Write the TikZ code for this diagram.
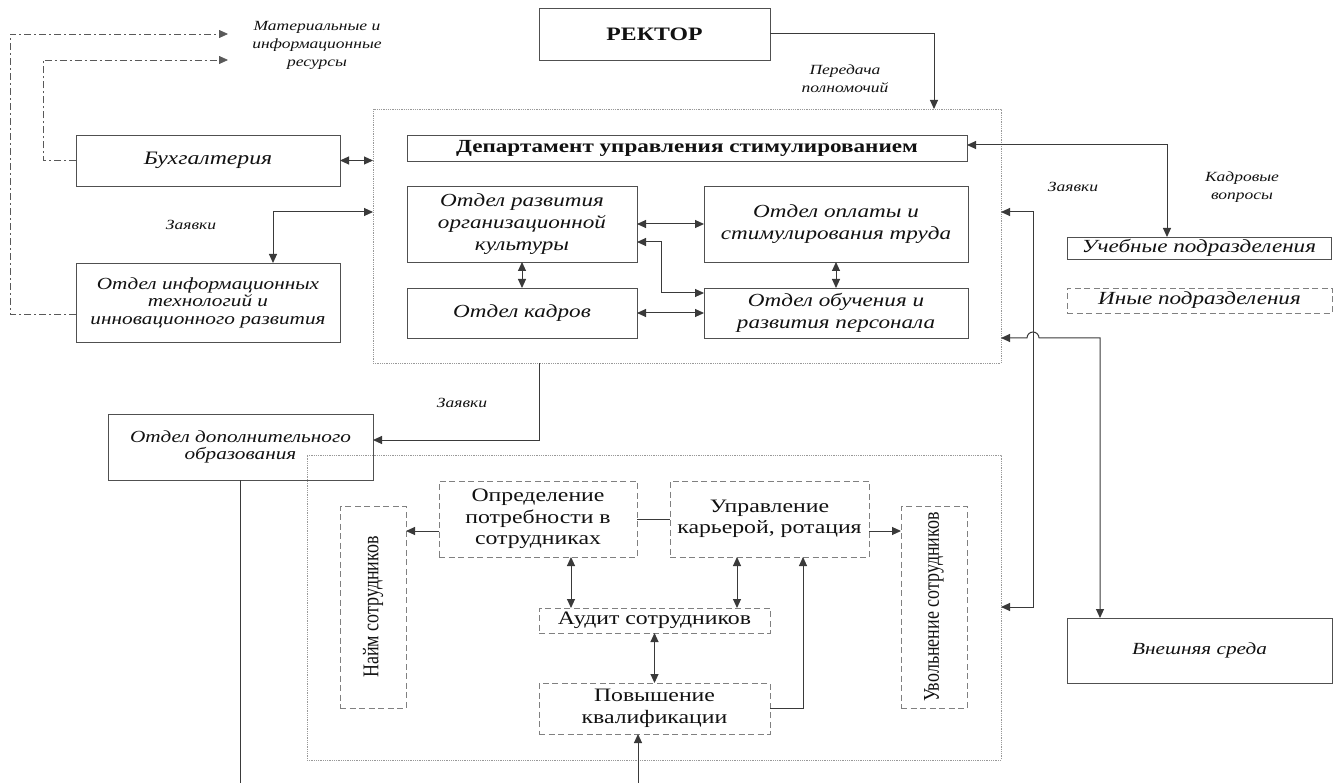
\documentclass[tikz,border=0pt]{standalone}
\usepackage{fontspec}
\usepackage{graphicx}
\setmainfont{Liberation Serif}[FakeStretch=1.25]
\newfontfamily\rotfont{Liberation Serif}[FakeStretch=0.8]
\usetikzlibrary{arrows.meta,calc}
\definecolor{ln}{HTML}{3A3A3A}
\definecolor{bd}{HTML}{505050}
\definecolor{txt}{HTML}{111111}
\begin{document}
\begin{tikzpicture}[x=1pt,y=-1pt,
  >={Triangle[length=9pt,width=8pt]},
  box/.style={draw=bd, line width=0.9pt, inner sep=0pt, outer sep=0pt, align=center, text=txt},
  dbox/.style={box, draw=gray, dash pattern=on 6pt off 3.5pt},
  cont/.style={draw=gray!80, line width=0.8pt, dash pattern=on 1pt off 0.8pt, inner sep=0pt, outer sep=0pt},
  conn/.style={draw=ln, line width=1pt},
  dd/.style={draw=gray!70!black, line width=0.8pt, dash pattern=on 7pt off 3pt on 2pt off 3pt},
  lab/.style={font=\fontsize{14}{18}\selectfont\itshape, align=center, text=txt, inner sep=0pt},
  fi/.style={font=\fontsize{17}{17.5}\selectfont\itshape},
  fib/.style={font=\fontsize{19}{20}\selectfont\itshape},
  fin/.style={font=\fontsize{18.5}{22}\selectfont\itshape},
  fu/.style={font=\fontsize{19}{21.5}\selectfont},
  fr/.style={font=\rotfont\fontsize{22.5}{24}\selectfont},
]
\useasboundingbox (0,0) rectangle (1338,783);

% nodes
\node[box, minimum width=231, minimum height=52, font=\fontsize{19}{20}\selectfont\bfseries] (rector) at (654.5,34) {РЕКТОР};
\node[box, fib, minimum width=264, minimum height=51] (buh) at (208,160.5) {Бухгалтерия};
\node[box, fi, minimum width=264, minimum height=79] (it) at (208,302.5) {Отдел информационных\\технологий и\\инновационного развития};
\node[box, minimum width=560, minimum height=26, font=\fontsize{18.5}{19}\selectfont\bfseries] (dept) at (687,148) {Департамент управления стимулированием};
\node[box, fin, minimum width=230, minimum height=76] (razv) at (522,224) {Отдел развития\\организационной\\культуры};
\node[box, fin, minimum width=264, minimum height=76] (opl) at (836,224) {Отдел оплаты и\\стимулирования труда};
\node[box, fin, minimum width=230, minimum height=50] (kadr) at (522,313) {Отдел кадров};
\node[box, fin, minimum width=264, minimum height=50] (obuch) at (836,313) {Отдел обучения и\\развития персонала};
\node[box, fin, minimum width=264, minimum height=22] (ucheb) at (1199,248) {Учебные подразделения};
\node[dbox, fin, minimum width=265, minimum height=25] (inye) at (1199.5,300.5) {Иные подразделения};
\node[box, fi, minimum width=265, minimum height=65] (ext) at (1199.5,650.5) {Внешняя среда};
\node[box, fi, minimum width=265, minimum height=66] (dop) at (240.5,447) {Отдел дополнительного\\образования};
\node[dbox, fu, minimum width=198, minimum height=76] (opr) at (538,519) {Определение\\потребности в\\сотрудниках};
\node[dbox, fu, minimum width=199, minimum height=76] (upr) at (769.5,519) {Управление\\карьерой, ротация};
\node[dbox, fr, minimum width=66, minimum height=202] (naim) at (373,607) {\rotatebox{90}{Найм сотрудников}};
\node[dbox, fr, minimum width=66, minimum height=202] (uvol) at (934,607) {\rotatebox{90}{Увольнение сотрудников}};
\node[dbox, fu, minimum width=231, minimum height=25] (audit) at (654.5,620.5) {Аудит сотрудников};
\node[dbox, fu, minimum width=231, minimum height=51] (pov) at (654.5,708.5) {Повышение\\квалификации};

% containers
\node[cont, minimum width=628, minimum height=254] (c1) at (687,236) {};
\node[cont, minimum width=694, minimum height=305] (c2) at (654,607.5) {};

% labels
\node[lab] (lres) at (317,45) {Материальные и\\информационные\\ресурсы};
\node[lab] (lper) at (845,79) {Передача\\полномочий};
\node[lab] (lz1) at (191,225) {Заявки};
\node[lab] (lz2) at (1073,187) {Заявки};
\node[lab] (lkad) at (1242,187) {Кадровые\\вопросы};
\node[lab] (lz3) at (462,403) {Заявки};

% coordinates
\coordinate (r1) at (934,34);
\coordinate (it1) at (273,212);
\coordinate (m1) at (228,34);
\coordinate (m2) at (228,60);
\coordinate (d1) at (10,34);
\coordinate (d2) at (43,60);
\coordinate (itw) at (76,314);
\coordinate (ro1) at (661,242);
\coordinate (ro2) at (661,293);
\coordinate (u1) at (1167,145);
\coordinate (z1) at (1033,212);
\coordinate (z2) at (1033,607);
\coordinate (e0) at (1027,338);
\coordinate (e1) at (1100,338);
\coordinate (q1) at (539,440);
\coordinate (b1) at (240.5,783);
\coordinate (b2) at (638,783);
\coordinate (o1) at (420,531);
\coordinate (o2) at (885,531);
\coordinate (a1) at (571,580);
\coordinate (a2) at (737,580);
\coordinate (p1) at (803,708.5);

% connectors
\draw[conn,->] (rector.east) -- (r1) -- (r1 |- c1.north);
\draw[conn,<->] (buh.east) -- (buh.east -| c1.west);
\draw[conn,<->] (it1 -| c1.west) -- (it1) -- (it1 |- it.north);
\draw[dd,->] (itw) -| (d1) -- (m1);
\draw[dd,->] (buh.west) -| (d2) -- (m2);
\draw[conn,<->] (razv.east) -- (opl.west);
\draw[conn,<->] (ro1 -| razv.east) -- (ro1) -- (ro2) -- (ro2 -| obuch.west);
\draw[conn,<->] (razv.south) -- (kadr.north);
\draw[conn,<->] (opl.south) -- (obuch.north);
\draw[conn,<->] (kadr.east) -- (obuch.west);
\draw[conn,<->] (u1 -| dept.east) -- (u1) -- (u1 |- ucheb.north);
\draw[conn,<->] (z1 -| c1.east) -- (z1) -- (z2) -- (z2 -| c2.east);
\draw[conn,<->] (e0 -| c1.east) -- (e0) arc[start angle=180,end angle=0,radius=6pt] -- (e1) -- (e1 |- ext.north);
\draw[conn,->] (q1 |- c1.south) -- (q1) -- (q1 -| dop.east);
\draw[conn] (dop.south) -- (b1);
\draw[conn,->] (b2) -- (b2 |- pov.south);
\draw[conn,->] (o1 -| opr.west) -- (o1 -| naim.east);
\draw[conn] (opr.east) -- (upr.west);
\draw[conn,->] (o2 -| upr.east) -- (o2 -| uvol.west);
\draw[conn,<->] (a1 |- opr.south) -- (a1 |- audit.north);
\draw[conn,<->] (a2 |- upr.south) -- (a2 |- audit.north);
\draw[conn,<->] (audit.south) -- (pov.north);
\draw[conn,->] (pov.east) -- (p1) -- (p1 |- upr.south);
\end{tikzpicture}
\end{document}
